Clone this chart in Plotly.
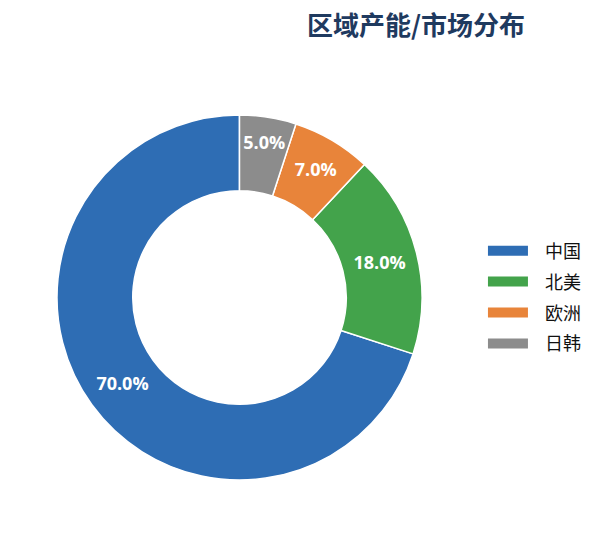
import plotly.graph_objects as go

# region share of capacity / market
regions = ["中国", "北美", "欧洲", "日韩"]
shares = [70, 18, 7, 5]
colors = ["#2e6db4", "#43a34b", "#e8843a", "#8c8c8c"]

fig = go.Figure()

fig.add_trace(go.Pie(
    labels=regions,
    values=shares,
    hole=0.585,
    sort=False,
    direction="counterclockwise",
    rotation=108,
    marker=dict(colors=colors, line=dict(color="white", width=1.5)),
    texttemplate="%{percent:.1%}",
    textposition="inside",
    insidetextorientation="horizontal",
    textfont=dict(color="white", size=18, family="Open Sans", weight="bold"),
    showlegend=False,
    hoverinfo="label+percent",
))

# legend entries drawn as wide colour bars
for name, c in zip(regions, colors):
    fig.add_trace(go.Scatter(
        x=[None], y=[None], mode="lines", name="\u00a0\u00a0\u00a0" + name,
        legendgroup=name,
        line=dict(color=c, width=12),
    ))

fig.update_layout(
    width=605,
    height=537,
    margin=dict(l=49, r=191, t=107, b=65),
    paper_bgcolor="white",
    plot_bgcolor="white",
    font=dict(family="Open Sans, Noto Sans CJK SC", color="#222222"),
    uniformtext=dict(minsize=18, mode="show"),
    title=dict(
        text="<b>区域产能/市场分布</b>",
        x=408 / 605,
        xanchor="center",
        y=1 - 18 / 537,
        yanchor="middle",
        font=dict(size=26, color="#1f3a5f", family="Noto Sans CJK SC"),
    ),
    legend=dict(
        x=1.167,
        xanchor="left",
        y=0.5,
        yanchor="middle",
        itemwidth=40,
        tracegroupgap=4.5,
        font=dict(size=18, family="Noto Sans CJK SC", color="#111111"),
    ),
    xaxis=dict(visible=False),
    yaxis=dict(visible=False),
)

fig.write_html("out.html")
